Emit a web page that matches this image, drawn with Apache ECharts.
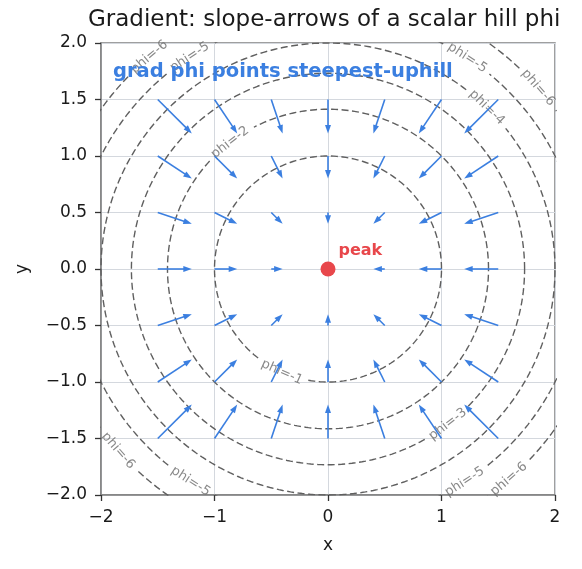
<!DOCTYPE html>
<html>
<head>
<meta charset="utf-8">
<script src="https://cdn.jsdelivr.net/npm/echarts@6/dist/echarts.min.js"></script>
<style>
  html, body { margin: 0; padding: 0; background: #fff; }
  #chart { width: 582px; height: 569px; }
</style>
</head>
<body>
<div id="chart"></div>
<script>
// grid of arrow tails and the slope (per column / per row)
var gridX = [-1.5, -1, -0.5, 0, 0.5, 1, 1.5];
var gridY = [-1.5, -1, -0.5, 0, 0.5, 1, 1.5];
var gradX = [3, 2, 1, 0, -1, -2, -3];
var gradY = [3, 2, 1, 0, -1, -2, -3];
var arrowScale = 0.1;

// contour levels of phi, and where the inline labels sit (level, angle in degrees)
var levels = [-1, -2, -3, -4, -5, -6];
var labelLevels = [-1, -2, -3, -4, -5, -5, -5, -5, -6, -6, -6, -6];
var labelAngles = [246, 127.6, -52.4, 45.6, 123, 56.7, -122.8, -57.4, 130, 40.9, -139, -49.4];

var peak = [0, 0];

var FONT = "DejaVu Sans";
var BLUE = "#3b7fe0";
var RED = "#e8474b";
var GREY = "#5f5f5f";

var chartDom = document.getElementById("chart");
var myChart = echarts.init(chartDom);

// arrows
var arrowData = [];
gridX.forEach(function (x, i) {
  gridY.forEach(function (y, j) {
    if (gradX[i] === 0 && gradY[j] === 0) return;
    arrowData.push([x, y, gradX[i] * arrowScale, gradY[j] * arrowScale]);
  });
});

function renderArrow(params, api) {
  var x = api.value(0), y = api.value(1), u = api.value(2), v = api.value(3);
  var p0 = api.coord([x, y]);
  var p1 = api.coord([x + u, y + v]);
  var dx = p1[0] - p0[0], dy = p1[1] - p0[1];
  var len = Math.sqrt(dx * dx + dy * dy);
  var ux = dx / len, uy = dy / len;
  var headLen = Math.min(8.5, len * 0.75);
  var hw = 3;
  var bx = p1[0] - ux * headLen, by = p1[1] - uy * headLen;
  return {
    type: "group",
    children: [
      {
        type: "line",
        shape: { x1: p0[0], y1: p0[1], x2: bx + ux, y2: by + uy },
        style: { stroke: BLUE, lineWidth: 1.6 }
      },
      {
        type: "polygon",
        shape: { points: [[p1[0], p1[1]], [bx - uy * hw, by + ux * hw], [bx + uy * hw, by - ux * hw]] },
        style: { fill: BLUE }
      }
    ]
  };
}

// contour lines with gaps where the labels go
var contourSeries = levels.map(function (lv) {
  var r = Math.sqrt(-lv);
  var gaps = [];
  labelLevels.forEach(function (l, k) { if (l === lv) gaps.push(labelAngles[k]); });
  var halfGap = (27 / (r * 113.5)) * 180 / Math.PI;
  var pts = [];
  for (var a = 0; a <= 360; a += 0.5) {
    var inGap = gaps.some(function (g) {
      var d = Math.abs(((a - g) % 360 + 540) % 360 - 180);
      return d < halfGap;
    });
    if (inGap) { pts.push(["-", "-"]); continue; }
    var t = a * Math.PI / 180;
    pts.push([r * Math.cos(t), r * Math.sin(t)]);
  }
  return {
    type: "line",
    data: pts,
    symbol: "none",
    silent: true,
    clip: true,
    lineStyle: { color: GREY, width: 1.4, type: [7, 3.5] },
    z: 2
  };
});

// contour labels
var labelData = labelLevels.map(function (lv, k) {
  var r = Math.sqrt(-lv);
  var t = labelAngles[k] * Math.PI / 180;
  var rot = labelAngles[k] + 90;
  while (rot > 90) rot -= 180;
  while (rot <= -90) rot += 180;
  return {
    value: [r * Math.cos(t), r * Math.sin(t)],
    label: { rotate: rot, formatter: "phi=" + lv }
  };
});

var option = {
  animation: false,
  title: [
    {
      text: "Gradient: slope-arrows of a scalar hill phi",
      left: 88,
      top: 9,
      padding: 0,
      textStyle: { fontFamily: FONT, fontSize: 23, fontWeight: "normal", color: "#1a1a1a" }
    },
    {
      text: "grad phi points steepest-uphill",
      left: 113,
      top: 62,
      padding: 0,
      textStyle: { fontFamily: FONT, fontSize: 19.5, fontWeight: "bold", color: BLUE }
    }
  ],
  grid: {
    left: 101, right: 27, top: 43, bottom: 74,
    show: true, borderColor: "#808080", borderWidth: 1.5, backgroundColor: "#fff"
  },
  xAxis: {
    type: "value",
    min: -2, max: 2, interval: 1,
    name: "x", nameLocation: "middle", nameGap: 42,
    nameTextStyle: { fontFamily: FONT, fontSize: 17, color: "#1a1a1a" },
    axisLine: { show: true, onZero: false, lineStyle: { color: "#808080", width: 1.5 } },
    axisTick: { show: true, length: 6, lineStyle: { color: "#333", width: 1.3 } },
    axisLabel: {
      fontFamily: FONT, fontSize: 17, color: "#1a1a1a", margin: 14,
      formatter: function (v) { return String(v).replace("-", "\u2212"); }
    },
    splitLine: { show: true, lineStyle: { color: "#d4d8de", width: 1 } }
  },
  yAxis: {
    type: "value",
    min: -2, max: 2, interval: 0.5,
    name: "y", nameLocation: "middle", nameGap: 70,
    nameTextStyle: { fontFamily: FONT, fontSize: 17, color: "#1a1a1a" },
    axisLine: { show: true, onZero: false, lineStyle: { color: "#808080", width: 1.5 } },
    axisTick: { show: true, length: 6, lineStyle: { color: "#333", width: 1.3 } },
    axisLabel: {
      fontFamily: FONT, fontSize: 17, color: "#1a1a1a", margin: 14,
      formatter: function (v) { return v.toFixed(1).replace("-", "\u2212"); }
    },
    splitLine: { show: true, lineStyle: { color: "#d4d8de", width: 1 } }
  },
  series: contourSeries.concat([
    {
      type: "scatter",
      data: labelData,
      symbolSize: 0,
      itemStyle: { color: "rgba(0,0,0,0)" },
      silent: true,
      z: 3,
      label: {
        show: true,
        position: "inside",
        fontFamily: FONT,
        fontSize: 13,
        color: "#6a6a6a"
      }
    },
    {
      type: "custom",
      data: arrowData,
      renderItem: renderArrow,
      silent: true,
      z: 4
    },
    {
      type: "scatter",
      data: [peak],
      symbolSize: 15,
      itemStyle: { color: RED, opacity: 1 },
      z: 5,
      label: {
        show: true,
        formatter: "peak",
        position: "right",
        offset: [-2, -18],
        fontFamily: FONT,
        fontSize: 16,
        fontWeight: "bold",
        color: RED
      }
    }
  ])
};

option && myChart.setOption(option);
</script>
</body>
</html>
